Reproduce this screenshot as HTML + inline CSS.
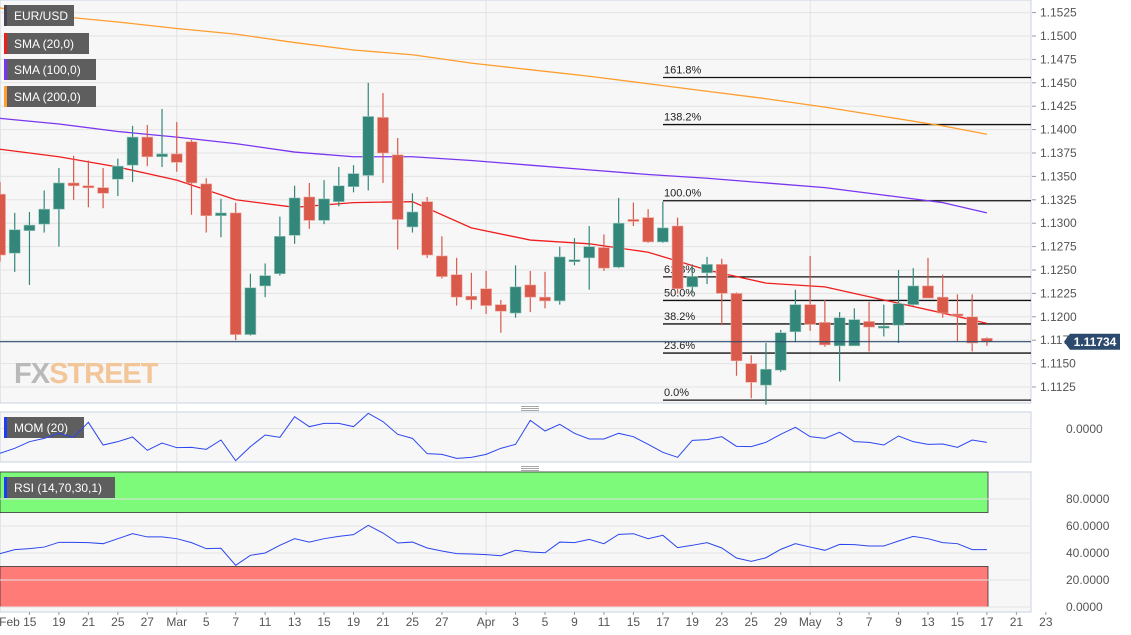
<!DOCTYPE html>
<html><head><meta charset="utf-8"><style>
body{margin:0;background:#fff;font-family:"Liberation Sans",sans-serif;}
svg{display:block}
</style></head><body>
<svg id="c" width="1131" height="635"></svg>
<script>
const dates=["Feb 13","Feb 14","Feb 15","Feb 18","Feb 19","Feb 20","Feb 21","Feb 22","Feb 25","Feb 26","Feb 27","Feb 28","Mar 1","Mar 4","Mar 5","Mar 6","Mar 7","Mar 8","Mar 11","Mar 12","Mar 13","Mar 14","Mar 15","Mar 18","Mar 19","Mar 20","Mar 21","Mar 22","Mar 25","Mar 26","Mar 27","Mar 28","Mar 29","Apr 1","Apr 2","Apr 3","Apr 4","Apr 5","Apr 8","Apr 9","Apr 10","Apr 11","Apr 12","Apr 15","Apr 16","Apr 17","Apr 18","Apr 19","Apr 22","Apr 23","Apr 24","Apr 25","Apr 26","Apr 29","Apr 30","May 1","May 2","May 3","May 6","May 7","May 8","May 9","May 10","May 13","May 14","May 15","May 16","May 17"];
const opens=[1.1331,1.1268,1.1292,1.1299,1.1315,1.1343,1.1340,1.1338,1.1347,1.1362,1.1392,1.1371,1.1374,1.1387,1.1342,1.1308,1.1311,1.1181,1.1233,1.1246,1.1287,1.1328,1.1303,1.1323,1.1339,1.1351,1.1413,1.1373,1.1296,1.1323,1.1265,1.1245,1.1222,1.1230,1.1213,1.1204,1.1234,1.1221,1.1217,1.1259,1.1263,1.1274,1.1253,1.1304,1.1306,1.1280,1.1297,1.1232,1.1247,1.1256,1.1225,1.1150,1.1127,1.1143,1.1184,1.1213,1.1194,1.1169,1.1169,1.1195,1.1189,1.1191,1.1213,1.1233,1.1221,1.1203,1.1200,1.1177];
const highs=[1.1344,1.1311,1.1312,1.1335,1.1359,1.1372,1.1367,1.1359,1.1369,1.1404,1.1405,1.1422,1.1408,1.1389,1.1348,1.1326,1.1322,1.1246,1.1257,1.1307,1.1340,1.1343,1.1346,1.1360,1.1362,1.1450,1.1439,1.1391,1.1332,1.1328,1.1286,1.1263,1.1247,1.1249,1.1218,1.1255,1.1249,1.1248,1.1275,1.1284,1.1297,1.1288,1.1327,1.1322,1.1315,1.1323,1.1306,1.1256,1.1264,1.1262,1.1226,1.1159,1.1172,1.1186,1.1229,1.1265,1.1218,1.1205,1.1209,1.1216,1.1213,1.1250,1.1252,1.1263,1.1245,1.1224,1.1224,1.1178];
const lows=[1.1259,1.1248,1.1234,1.1290,1.1275,1.1325,1.1317,1.1316,1.1329,1.1344,1.1361,1.1360,1.1355,1.1309,1.1290,1.1285,1.1175,1.1180,1.1221,1.1244,1.1278,1.1294,1.1299,1.1318,1.1333,1.1335,1.1343,1.1272,1.1290,1.1263,1.1241,1.1212,1.1208,1.1203,1.1183,1.1199,1.1205,1.1209,1.1213,1.1255,1.1229,1.1249,1.1252,1.1297,1.1279,1.1279,1.1225,1.1225,1.1235,1.1191,1.1137,1.1113,1.1106,1.1141,1.1173,1.1185,1.1168,1.1131,1.1169,1.1163,1.1179,1.1172,1.1212,1.1220,1.1199,1.1174,1.1163,1.1169];
const closes=[1.1266,1.1293,1.1298,1.1315,1.1343,1.1340,1.1338,1.1332,1.1361,1.1392,1.1371,1.1374,1.1365,1.1343,1.1308,1.1311,1.1181,1.1231,1.1244,1.1286,1.1327,1.1303,1.1326,1.1340,1.1353,1.1414,1.1375,1.1304,1.1312,1.1266,1.1243,1.1221,1.1218,1.1212,1.1206,1.1232,1.1221,1.1217,1.1264,1.1261,1.1275,1.1252,1.1300,1.1303,1.1280,1.1295,1.1230,1.1243,1.1256,1.1225,1.1153,1.1130,1.1144,1.1183,1.1213,1.1192,1.1170,1.1199,1.1197,1.1189,1.1190,1.1214,1.1233,1.1220,1.1204,1.1202,1.1172,1.11734];
const smaIdx=[0,4,8,12,16,20,24,28,32,36,40,44,48,52,56,60,64,67];
const sma20=[1.1379,1.1371,1.1360,1.1346,1.1325,1.1317,1.1322,1.1323,1.1295,1.1282,1.1278,1.1269,1.1250,1.1236,1.1232,1.1218,1.1204,1.1193];
const sma100=[1.1412,1.1406,1.1398,1.1392,1.1385,1.1376,1.1371,1.1371,1.1367,1.1362,1.1357,1.1352,1.1348,1.1343,1.1338,1.1330,1.1322,1.1311];
const sma200=[1.1530,1.1521,1.1515,1.1508,1.1502,1.1493,1.1485,1.1480,1.1471,1.1464,1.1457,1.1449,1.1441,1.1433,1.1424,1.1414,1.1404,1.1395];
const mom=[-0.015,-0.012,-0.008,-0.006,-0.003,-0.0054,0.0036,-0.010,-0.008,-0.0052,-0.0132,-0.0088,-0.0116,-0.0114,-0.0126,-0.007,-0.0194,-0.011,-0.004,-0.0054,0.007,0.001,0.003,0.003,0.001,0.009,0.004,-0.0036,-0.006,-0.0152,-0.0156,-0.018,-0.0174,-0.0156,-0.012,-0.0096,0.0048,-0.0016,0.0024,-0.003,-0.0064,-0.0064,-0.003,-0.005,-0.0096,-0.0144,-0.0174,-0.0072,-0.0068,-0.005,-0.0108,-0.011,-0.0084,-0.0036,0.0006,-0.005,-0.006,-0.0024,-0.008,-0.0084,-0.010,-0.0046,-0.008,-0.0096,-0.0094,-0.0114,-0.007,-0.0084];
const rsi=[39.5,42.5,43.2,44.4,47.9,47.9,47.7,46.9,50.6,54.3,51.9,51.9,50.6,47.7,43.2,43.5,30.9,38.3,40.0,45.7,50.6,48.1,50.6,52.3,53.6,60.5,54.8,47.4,48.1,43.7,41.5,39.5,39.3,38.8,38.0,42.0,40.7,40.2,48.1,47.7,50.1,46.9,53.8,54.3,50.6,53.1,44.0,45.7,47.7,43.7,36.3,33.8,36.5,42.7,46.9,44.4,42.0,46.4,46.2,45.2,45.2,48.9,52.3,50.6,47.7,46.9,42.5,42.5];
const priceTicks=["1.1525","1.1500","1.1475","1.1450","1.1425","1.1400","1.1375","1.1350","1.1325","1.1300","1.1275","1.1250","1.1225","1.1200","1.1175","1.1150","1.1125"];
const rsiTicks=["80.0000","60.0000","40.0000","20.0000","0.0000"];
const xLabels=["Feb 15","19","21","25","27","Mar","5","7","11","13","15","19","21","25","27","Apr","3","5","9","11","15","17","19","23","25","29","May","3","7","9","13","15","17","21","23"];
const xLabelIdx=[2,4,6,8,10,12,14,16,18,20,22,24,26,28,30,33,35,37,39,41,43,45,47,49,51,53,55,57,59,61,63,65,67,69,71];
const fibLevels=[0,0.236,0.382,0.5,0.618,1,1.382,1.618];
const fibLow=1.1111, fibHigh=1.1324;
const lastPrice="1.11734";

const NS="http://www.w3.org/2000/svg";const svg=document.getElementById('c');
function el(t,a,p){const e=document.createElementNS(NS,t);for(const k in a)e.setAttribute(k,a[k]);(p||svg).appendChild(e);return e;}
const X=i=>i*14.73;
const Y=p=>387-(p-1.1125)/0.0025*23.4;
const YM=v=>405+(70-v/0.0002)/3;
const YR=v=>607-v*1.35;
const PR=1031;
let g=el('rect',{x:0,y:0,width:PR,height:403,fill:'#f7f7f7',stroke:'#c9d1e0'});

g=el('rect',{x:0,y:412,width:PR,height:50,fill:'#f7f7f7',stroke:'#c9d1e0'});

g=el('rect',{x:0,y:472,width:PR,height:140,fill:'#f7f7f7',stroke:'#c9d1e0'});

priceTicks.forEach(t=>{const y=Y(+t);el('line',{x1:0,x2:PR,y1:y,y2:y,stroke:'#e3e3e3'});
 const tx=el('text',{x:1040,y:y+4,'font-size':12,fill:'#555'});tx.textContent=t;
 
 el('line',{x1:1032,x2:1036,y1:y,y2:y,stroke:'#999'});});
[12,33,55].forEach(i=>{const x=X(i);el('line',{x1:x,x2:x,y1:0,y2:612,stroke:'#e3e3e3'});});
el('line',{x1:0,x2:PR,y1:428.5,y2:428.5,stroke:'#e3e3e3'});
let wm=el('text',{x:14,y:383,'font-size':29,'font-weight':'bold',fill:'#b9b9b9','letter-spacing':'-1'});
wm.innerHTML='FX<tspan fill="#f3c69a">STREET</tspan>';

fibLevels.forEach(f=>{const y=Y(fibLow+(fibHigh-fibLow)*f);
 const l=el('line',{x1:663,x2:PR,y1:y,y2:y,stroke:'#111','stroke-width':1.3});
 
 const t=el('text',{x:664,y:y-4,'font-size':11,fill:'#222'});t.textContent=(f*100).toFixed(1)+'%';
 });
function line(vals,col,name){const pts=vals.map((v,k)=>X(smaIdx[k])+','+Y(v)).join(' ');
 const p=el('polyline',{points:pts,fill:'none',stroke:col,'stroke-width':1.3});
 }
line(sma200,'#ff9d2e','sma-200-line');line(sma100,'#7a35f0','sma-100-line');line(sma20,'#f01d1d','sma-20-line');
opens.forEach((o,i)=>{const c=closes[i],up=c>=o,col=up?'#33877a':'#d9594a',x=X(i);
 const w=el('line',{x1:x,x2:x,y1:Y(highs[i]),y2:Y(lows[i]),stroke:col,'stroke-width':1.2});
 
 const t=Math.min(Y(o),Y(c)),h=Math.max(2,Math.abs(Y(o)-Y(c)));
 const b=el('rect',{x:x-5.5,y:t,width:11,height:h,fill:col,stroke:up?'#9cc9bd':'#f0aaa2','stroke-width':0.6});
 });
const ly=Y(+lastPrice);
el('line',{x1:0,x2:PR,y1:ly,y2:ly,stroke:'#2c4a6e','stroke-width':1.2});
el('polygon',{points:`1064,${ly} 1070,${ly-8} 1120,${ly-8} 1120,${ly+8} 1070,${ly+8}`,fill:'#2c4a6e'});
let lp=el('text',{x:1095,y:ly+4.5,'font-size':12,'font-weight':'bold',fill:'#fff','text-anchor':'middle'});lp.textContent=lastPrice;

[["EUR/USD",5,70,'#445'],["SMA (20,0)",33,85,'#f01d1d'],["SMA (100,0)",59,92,'#7a35f0'],["SMA (200,0)",86,92,'#ff9d2e']].forEach(([t,y,w,c])=>{
 const r=el('rect',{x:4,y:y,width:w,height:21,fill:'#5e5e5e'});
 el('rect',{x:4,y:y,width:3,height:21,fill:c});
 const tx=el('text',{x:14,y:y+15,'font-size':12,fill:'#fff'});tx.textContent=t;});
[406,466].forEach(y=>{for(let k=0;k<3;k++)el('line',{x1:521,x2:539,y1:y+k*2+0.5,y2:y+k*2+0.5,stroke:'#888','stroke-width':0.8});});
let r=el('rect',{x:4,y:417,width:80,height:21,fill:'#5e5e5e'});
el('rect',{x:4,y:417,width:3,height:21,fill:'#1d3ef0'});
let t=el('text',{x:14,y:432,'font-size':12,fill:'#fff'});t.textContent='MOM (20)';
let pm=el('polyline',{points:mom.map((v,i)=>X(i)+','+YM(v)).join(' '),fill:'none',stroke:'#2b46f0','stroke-width':1});

t=el('text',{x:1066,y:433,'font-size':12,fill:'#555'});t.textContent='0.0000';
let gb=el('rect',{x:0,y:YR(100),width:988,height:YR(70)-YR(100),fill:'#7dfa7a',stroke:'#333','stroke-width':0.8});

let rb=el('rect',{x:0,y:YR(30),width:988,height:YR(0)-YR(30),fill:'#ff7b78',stroke:'#333','stroke-width':0.8});

[80,60,40,20,0].forEach((v,k)=>{const y=YR(v);el('line',{x1:0,x2:PR,y1:y,y2:y,stroke:'#e3e3e3'});
 const tx=el('text',{x:1066,y:y+4,'font-size':12,fill:'#555'});tx.textContent=rsiTicks[k];
 });
r=el('rect',{x:4,y:477,width:111,height:21,fill:'#5e5e5e'});
el('rect',{x:4,y:477,width:3,height:21,fill:'#1d3ef0'});
t=el('text',{x:14,y:492,'font-size':12,fill:'#fff'});t.textContent='RSI (14,70,30,1)';
let pr=el('polyline',{points:rsi.map((v,i)=>X(i)+','+YR(v)).join(' '),fill:'none',stroke:'#2b46f0','stroke-width':1});

el('line',{x1:0,x2:PR,y1:612,y2:612,stroke:'#c9d1e0'});
xLabels.forEach((s,k)=>{const x=X(xLabelIdx[k]);el('line',{x1:x,x2:x,y1:612,y2:615,stroke:'#999'});
 const tx=el('text',{x:s==="Feb 15"?x+7:x,y:626,'font-size':12,fill:'#555','text-anchor':s==="Feb 15"?'end':'middle'});tx.textContent=s;
 });
</script>
</body></html>
